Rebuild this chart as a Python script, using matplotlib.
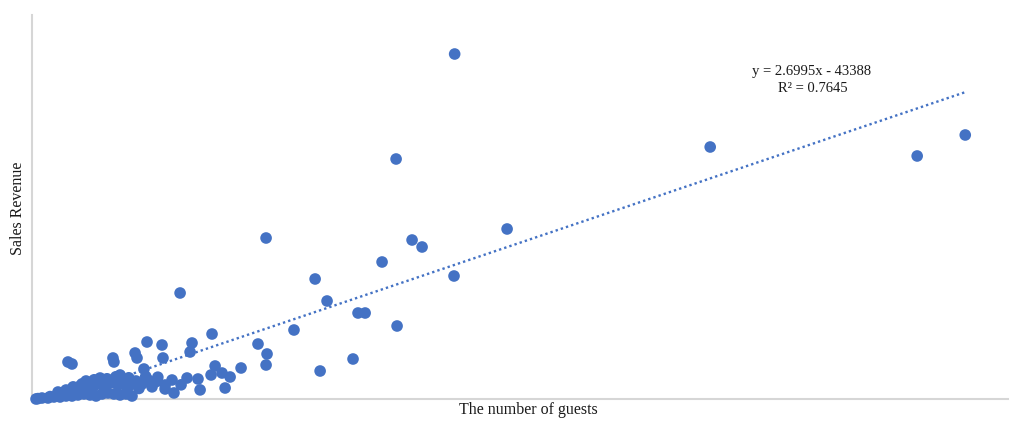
import matplotlib.pyplot as plt
import numpy as np

# number of guests vs sales revenue
guests = [
    262000, 225700, 420400, 548700, 578500, 145100, 294500, 235600, 241800, 217000,
    261600, 175500, 182900, 91800, 202100, 206500, 226300, 162400, 111600, 199000,
    178600, 140100, 145700, 145100, 129600, 119700, 122800, 113500, 117800, 111000,
    102900, 96100, 99200, 98000, 81200, 80600, 71300, 63900, 65100, 50200,
    50800, 22300, 24800, 69400, 86800, 82500, 77500, 82500,
    2500, 6200, 9900, 13600, 17400, 21100, 24800, 28500, 32200, 36000,
    39700, 43400, 47100, 50800, 54600, 58300, 62000,
    16100, 21100, 26000, 29800, 34700, 39100, 44600, 48400, 53300, 57000,
    60800, 64500, 68200, 71900, 76300, 42200, 33500, 54600, 3700, 11200,
    19800, 27300, 37200, 45900, 66300, 74400, 58900, 88000, 92400, 104200,
    31000, 38500, 46500, 52000, 60000, 70500, 25500, 35000, 56000, 78000,
]
revenue = [
    1707000, 1187500, 1246900, 1202400, 1306300, 796600, 841200, 786700, 752100, 677900,
    608600, 593800, 484900, 524500, 425500, 425500, 361200, 341400, 321600, 197900,
    138500, 272100, 222700, 168200, 153400, 54400, 108900, 163300, 128600, 118800,
    99000, 103900, 277100, 232600, 202900, 267200, 282000, 227600, 202900, 202900,
    183100, 183100, 173200, 148400, 94000, 69300, 89100, 49500,
    0, 4900, 4900, 9900, 9900, 14800, 14800, 19800, 24700, 19800,
    14800, 24700, 29700, 24700, 19800, 24700, 14800,
    34600, 44500, 54400, 64300, 54400, 69300, 59400, 79200, 69300, 84100,
    69300, 89100, 74200, 94000, 84100, 103900, 89100, 118800, 2000, 12000,
    27000, 38000, 44000, 35000, 52000, 60000, 40000, 30000, 70000, 45000,
    75000, 95000, 100000, 110000, 105000, 112000, 60000, 80000, 95000, 108000,
]

# linear trend line fitted in the workbook
slope = 2.6995
intercept = -43388
r_squared = 0.7645

blue = '#4472C4'

fig = plt.figure(figsize=(10.11, 4.21), dpi=100)
ax = fig.add_axes([32 / 1011, 22 / 421, 976 / 1011, 384 / 421])

ax.scatter(guests, revenue, s=70, color=blue, edgecolors='none', zorder=3,
           clip_on=False)

tx = np.array([min(guests), max(guests)])
ax.plot(tx, slope * tx + intercept, color=blue, linewidth=1.7,
        linestyle=(0, (1, 1.3)), zorder=2)

ax.set_xlim(0, 605000)
ax.set_ylim(0, 1900000)
ax.set_xticks([])
ax.set_yticks([])
for side in ['top', 'right']:
    ax.spines[side].set_visible(False)
for side in ['left', 'bottom']:
    ax.spines[side].set_color('#d6d6d6')
    ax.spines[side].set_linewidth(1.5)

serif = 'Liberation Serif'
fig.text(812 / 1011, 1 - 71 / 421, 'y = %.4fx - %d' % (slope, -intercept),
         family=serif, fontsize=10.5, ha='center', va='center', color='#1a1a1a')
fig.text(813 / 1011, 1 - 89 / 421, 'R² = %.4f' % r_squared,
         family=serif, fontsize=10.5, ha='center', va='center', color='#1a1a1a')

fig.text(18 / 1011, 1 - 208 / 421, 'Sales Revenue', family=serif, fontsize=11.5,
         rotation=90, ha='center', va='center', color='#1a1a1a')
fig.text(528 / 1011, 1 - 410 / 421, 'The number of guests', family=serif,
         fontsize=11.5, ha='center', va='center', color='#1a1a1a')

fig.savefig('out.png', dpi=100)
